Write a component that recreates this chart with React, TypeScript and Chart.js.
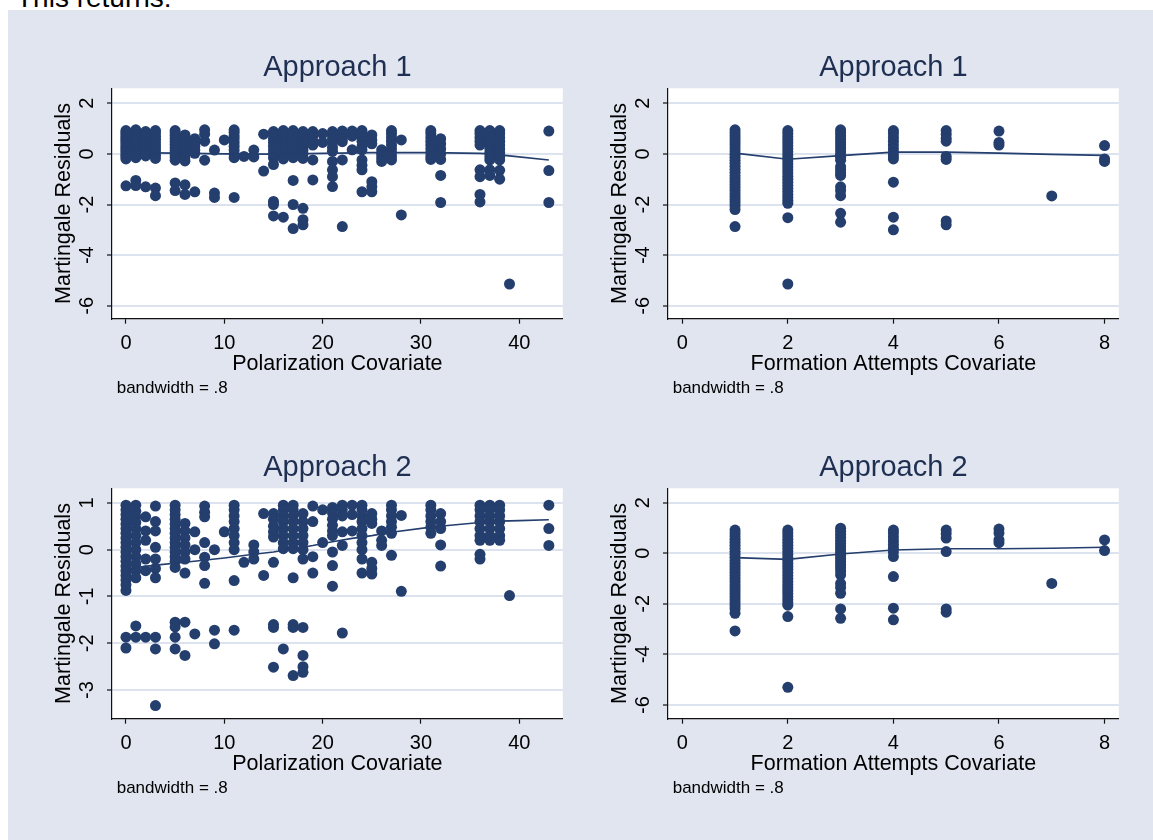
import React, { useEffect, useRef } from "react";
import { Chart, registerables } from "chart.js";
Chart.register(...registerables);

const FONT = '"Liberation Sans", Arial, Helvetica, sans-serif';
const NAVY = "#243e6e";
const TITLE_COLOR = "#1f2f52";
const BG = "rgb(224,229,240)";
const GRID = "#dde3ee";
const AXIS = "#111111";

// ---- Data ----
const polCols = [0, 1, 2, 3, 5, 6, 7, 8, 9, 10, 11, 12, 13, 14, 15, 16, 17, 18, 19, 20, 21, 22, 23, 24, 25, 26, 27, 28, 31, 32, 36, 37, 38, 39, 43];
const formCols = [1, 2, 3, 4, 5, 6, 7, 8];

const polTicks = [0, 10, 20, 30, 40];
const formTicks = [0, 2, 4, 6, 8];
const resTicksWide = [2, 0, -2, -4, -6];
const resTicksNarrow = [1, 0, -1, -2, -3];

// Approach 1 residuals vs polarization (one list per polCols entry)
const a1PolVals = [
  [0.92, 0.85, 0.78, 0.7, 0.62, 0.55, 0.48, 0.4, 0.32, 0.25, 0.18, 0.1, 0.03, -0.05, -0.12, -0.2, -1.26],
  [0.95, 0.85, 0.75, 0.65, 0.55, 0.45, 0.35, 0.25, 0.15, 0.05, -0.05, -0.15, -1.05, -1.25],
  [0.88, 0.78, 0.68, 0.55, 0.42, 0.3, 0.18, 0.05, -0.08, -1.3],
  [0.92, 0.82, 0.7, 0.58, 0.45, 0.32, 0.2, 0.08, -0.05, -0.18, -1.35, -1.65],
  [0.92, 0.82, 0.72, 0.6, 0.48, 0.36, 0.24, 0.12, 0, -0.12, -0.25, -1.15, -1.45],
  [0.75, 0.62, 0.5, 0.38, 0.25, 0.12, 0, -0.12, -0.28, -1.22, -1.6],
  [0.6, 0.45, 0.3, 0.15, 0.02, -1.5],
  [0.95, 0.78, 0.5, -0.25],
  [0.15, -1.55, -1.72],
  [0.55],
  [0.95, 0.85, 0.72, 0.6, 0.45, 0.3, 0.15, 0, -0.15, -1.72],
  [-0.1],
  [0.15, -0.12],
  [0.78, -0.68],
  [0.88, 0.75, 0.6, 0.45, 0.3, 0.15, 0, -0.15, -0.42, -1.88, -2.0, -2.45],
  [0.92, 0.8, 0.65, 0.5, 0.35, 0.2, 0.05, -0.1, -0.2, -2.5],
  [0.92, 0.8, 0.65, 0.5, 0.35, 0.2, 0.05, -0.15, -1.05, -2.0, -2.95],
  [0.88, 0.75, 0.6, 0.45, 0.3, 0.15, 0, -0.18, -2.15, -2.6, -2.8],
  [0.88, 0.7, 0.5, 0.35, -0.24, -1.03],
  [0.8, 0.45],
  [0.88, 0.75, 0.6, 0.42, 0.25, 0.1, -0.3, -0.63, -0.9, -1.29],
  [0.9, 0.78, 0.6, 0.48, -0.24, -2.87],
  [0.9, 0.7, 0.16],
  [0.92, 0.8, 0.65, 0.5, 0.3, 0.16, -0.24, -0.45, -0.63, -1.5],
  [0.75, 0.55, 0.4, -1.1, -1.3, -1.5],
  [0.16, 0, -0.15, -0.3],
  [0.92, 0.8, 0.65, 0.5, 0.35, 0.2, 0.05, -0.1, -0.24],
  [0.55, -2.41],
  [0.92, 0.8, 0.65, 0.5, 0.35, 0.2, 0.05, -0.1, -0.22],
  [0.6, 0.4, 0.2, 0, -0.22, -0.85, -1.92],
  [0.92, 0.8, 0.65, 0.5, 0.35, -0.63, -0.9, -1.6, -1.9],
  [0.92, 0.8, 0.65, 0.5, 0.35, 0.2, 0.05, -0.1, -0.24, -0.63, -0.85],
  [0.92, 0.8, 0.65, 0.5, 0.35, 0.2, 0.05, -0.1, -0.24, -0.65, -1.0],
  [-5.14],
  [0.9, -0.66, -1.92],
];

// Approach 2 residuals vs polarization
const a2PolVals = [
  [0.95, 0.85, 0.75, 0.65, 0.55, 0.45, 0.35, 0.25, 0.15, 0.05, -0.05, -0.15, -0.25, -0.35, -0.45, -0.55, -0.65, -0.75, -0.87, -1.87, -2.1],
  [0.95, 0.82, 0.7, 0.58, 0.45, 0.3, 0.15, 0, -0.15, -0.3, -0.45, -0.6, -1.63, -1.87],
  [0.7, 0.4, 0.2, -0.2, -0.45, -1.87],
  [0.93, 0.6, 0.4, 0.05, -0.2, -0.4, -0.6, -1.87, -2.12, -3.33],
  [0.95, 0.85, 0.75, 0.65, 0.55, 0.45, 0.35, 0.25, 0.15, 0.05, -0.05, -0.15, -0.25, -0.38, -1.55, -1.65, -1.87, -2.12],
  [0.56, 0.4, 0.25, 0.1, -0.05, -0.2, -0.5, -1.55, -2.26],
  [0.38, 0, -1.8],
  [0.93, 0.8, 0.7, 0.15, -0.16, -0.34, -0.72],
  [0, -1.72, -2.01],
  [0.38],
  [0.95, 0.85, 0.72, 0.6, 0.45, 0.3, 0.15, 0, -0.66, -1.72],
  [-0.27],
  [0.1, -0.05, -0.2],
  [0.77, -0.55],
  [0.77, 0.65, 0.5, 0.38, 0.27, -0.27, -1.6, -1.66, -2.51],
  [0.95, 0.85, 0.72, 0.6, 0.45, 0.3, 0.15, 0.02, -2.12],
  [0.95, 0.85, 0.72, 0.6, 0.45, 0.3, 0.15, 0.02, -0.6, -1.6, -1.66, -2.69],
  [0.77, 0.6, 0.45, 0.3, 0.15, 0, -0.2, -1.66, -2.26, -2.5, -2.62],
  [0.93, 0.6, -0.15, -0.5],
  [0.85, 0.15],
  [0.9, 0.78, 0.65, 0.52, 0.4, 0.3, -0.05, -0.34, -0.78],
  [0.95, 0.85, 0.72, 0.38, 0.09, -1.78],
  [0.95, 0.75, 0.4],
  [0.95, 0.85, 0.72, 0.6, 0.45, 0.3, 0.15, 0, -0.2, -0.5],
  [0.77, 0.65, 0.56, -0.27, -0.4, -0.52],
  [0.4, 0.2, 0.09],
  [0.95, 0.85, 0.72, 0.6, 0.48, 0.35, -0.12],
  [0.73, -0.89],
  [0.95, 0.85, 0.72, 0.6, 0.48, 0.35],
  [0.77, 0.6, 0.45, 0.1, -0.35],
  [0.95, 0.85, 0.72, 0.6, 0.45, 0.3, 0.2, -0.1, -0.2],
  [0.95, 0.85, 0.72, 0.6, 0.45, 0.3, 0.2],
  [0.95, 0.85, 0.72, 0.6, 0.45, 0.3, 0.2],
  [-0.98],
  [0.95, 0.45, 0.09],
];

// Approach 1 residuals vs formation attempts
const a1FormVals = [
  [0.95, 0.83, 0.71, 0.59, 0.47, 0.35, 0.23, 0.11, -0.01, -0.13, -0.25, -0.37, -0.49, -0.61, -0.73, -0.85, -0.97, -1.09, -1.21, -1.33, -1.45, -1.57, -1.69, -1.81, -1.93, -2.05, -2.2, -2.87],
  [0.92, 0.8, 0.68, 0.56, 0.44, 0.32, 0.2, 0.08, -0.04, -0.16, -0.28, -0.4, -0.52, -0.64, -0.76, -0.88, -1.0, -1.12, -1.24, -1.36, -1.48, -1.6, -1.72, -1.84, -1.95, -2.52, -5.14],
  [0.95, 0.83, 0.71, 0.59, 0.47, 0.35, 0.23, 0.11, -0.01, -0.13, -0.25, -0.5, -0.62, -0.75, -0.85, -1.3, -1.45, -1.65, -2.35, -2.7],
  [0.92, 0.8, 0.65, 0.5, 0.35, 0.2, 0.05, -0.08, -0.2, -1.12, -2.5, -3.0],
  [0.92, 0.78, 0.62, 0.5, -0.1, -0.22, -2.65, -2.8],
  [0.9, 0.45, 0.35],
  [-1.66],
  [0.33, -0.2, -0.3],
];

// Approach 2 residuals vs formation attempts
const a2FormVals = [
  [0.92, 0.8, 0.68, 0.56, 0.44, 0.32, 0.2, 0.08, -0.04, -0.16, -0.28, -0.4, -0.52, -0.64, -0.76, -0.88, -1.0, -1.12, -1.24, -1.36, -1.48, -1.6, -1.72, -1.84, -1.96, -2.08, -2.2, -2.37, -3.07],
  [0.92, 0.8, 0.68, 0.56, 0.44, 0.32, 0.2, 0.08, -0.04, -0.16, -0.28, -0.4, -0.52, -0.64, -0.76, -0.88, -1.0, -1.12, -1.24, -1.36, -1.48, -1.6, -1.72, -1.84, -1.96, -2.05, -2.5, -5.3],
  [0.99, 0.87, 0.75, 0.63, 0.51, 0.39, 0.27, 0.15, 0.03, -0.09, -0.21, -0.33, -0.45, -0.57, -0.7, -0.85, -1.19, -1.35, -1.58, -2.2, -2.57],
  [0.92, 0.8, 0.65, 0.5, 0.35, 0.2, 0.05, -0.13, -0.92, -2.17, -2.63],
  [0.92, 0.78, 0.6, 0.07, -2.2, -2.33],
  [0.96, 0.8, 0.53, 0.42],
  [-1.19],
  [0.53, 0.11],
];

// Lowess smooths
const a1PolLowX = [0, 5, 10, 15, 20, 25, 31, 36, 37, 38, 39, 43];
const a1PolLowY = [0.05, 0.03, 0.0, -0.01, 0.02, 0.05, 0.05, 0.02, 0.0, -0.04, -0.08, -0.24];
const a2PolLowX = [0, 3, 6, 10, 13, 15, 17, 19, 21, 23, 25, 27, 31, 33, 36, 38, 40, 43];
const a2PolLowY = [-0.41, -0.33, -0.27, -0.18, -0.1, -0.05, 0.02, 0.09, 0.17, 0.24, 0.3, 0.37, 0.48, 0.52, 0.58, 0.61, 0.62, 0.64];
const a1FormLowX = [1, 2, 3, 4, 5, 6, 7, 8];
const a1FormLowY = [0.03, -0.21, -0.07, 0.07, 0.07, 0.03, -0.02, -0.06];
const a2FormLowX = [1, 2, 3, 4, 5, 6, 7, 8];
const a2FormLowY = [-0.17, -0.24, -0.03, 0.13, 0.18, 0.18, 0.2, 0.24];

const CW = 556;
const CH = 400;

type PanelProps = {
  left: number;
  top: number;
  title: string;
  xTitle: string;
  xMin: number;
  xMax: number;
  xTicks: number[];
  yMin: number;
  yMax: number;
  yTicks: number[];
  cols: number[];
  vals: number[][];
  lowX: number[];
  lowY: number[];
};

const areaPlugin = {
  id: "areaBg",
  beforeDraw(chart: any) {
    const { ctx, chartArea } = chart;
    ctx.save();
    ctx.fillStyle = "#ffffff";
    ctx.fillRect(chartArea.left, chartArea.top, chartArea.right - chartArea.left, chartArea.bottom - chartArea.top);
    ctx.restore();
  },
};

const notePlugin = {
  id: "bwNote",
  afterDraw(chart: any) {
    const { ctx, chartArea } = chart;
    ctx.save();
    ctx.font = `17px ${FONT}`;
    ctx.fillStyle = "#000";
    ctx.textAlign = "left";
    ctx.textBaseline = "alphabetic";
    ctx.fillText("bandwidth = .8", chartArea.left + 4.7, chartArea.bottom + 74.6);
    ctx.restore();
  },
};

function Panel(p: PanelProps) {
  const ref = useRef<HTMLCanvasElement>(null);
  useEffect(() => {
    const pts = p.cols.flatMap((c, i) => p.vals[i].map((v) => ({ x: c, y: v })));
    const line = p.lowX.map((x, i) => ({ x, y: p.lowY[i] }));
    const chart = new Chart(ref.current as HTMLCanvasElement, {
      type: "scatter",
      data: {
        datasets: [
          {
            data: pts,
            pointRadius: 5.5,
            pointHoverRadius: 5.5,
            backgroundColor: NAVY,
            borderWidth: 0,
            order: 2,
          } as any,
          {
            data: line,
            showLine: true,
            pointRadius: 0,
            borderColor: NAVY,
            borderWidth: 1.6,
            order: 1,
          } as any,
        ],
      },
      options: {
        animation: false,
        responsive: false,
        events: [],
        layout: { padding: { left: 0, right: 1.2, top: 0, bottom: 0 }, autoPadding: false } as any,
        plugins: {
          legend: { display: false },
          tooltip: { enabled: false },
          title: {
            display: true,
            text: p.title,
            fullSize: false,
            color: TITLE_COLOR,
            font: { family: FONT, size: 29, weight: "normal" as any },
            padding: { top: 40.4, bottom: 3.1 },
          },
        },
        scales: {
          x: {
            type: "linear",
            position: "bottom",
            min: p.xMin,
            max: p.xMax,
            afterBuildTicks: (s: any) => {
              s.ticks = p.xTicks.map((v) => ({ value: v }));
            },
            afterFit: (s: any) => {
              s.height = 91.3;
            },
            grid: { drawOnChartArea: false, drawTicks: true, tickLength: 5, tickColor: AXIS, tickWidth: 1.2 },
            border: { display: true, color: AXIS, width: 1.2 },
            ticks: {
              autoSkip: false,
              minRotation: 0,
              maxRotation: 0,
              padding: 8,
              color: "#000",
              font: { family: FONT, size: 20 },
            },
            title: {
              display: true,
              text: p.xTitle,
              color: "#000",
              font: { family: FONT, size: 21.5 },
              padding: { top: 0, bottom: 33.2 },
            },
          },
          y: {
            type: "linear",
            position: "left",
            min: p.yMin,
            max: p.yMax,
            afterBuildTicks: (s: any) => {
              s.ticks = p.yTicks.map((v) => ({ value: v }));
            },
            afterFit: (s: any) => {
              s.width = 104;
            },
            grid: { color: GRID, lineWidth: 2, drawTicks: true, tickLength: 5, tickColor: AXIS, tickWidth: 1.2 },
            border: { display: true, color: AXIS, width: 1.2 },
            ticks: {
              autoSkip: false,
              minRotation: 90,
              maxRotation: 90,
              crossAlign: "center",
              padding: 10.6,
              color: "#000",
              font: { family: FONT, size: 20 },
            },
            title: {
              display: true,
              text: "Martingale Residuals",
              color: "#000",
              font: { family: FONT, size: 21.5 },
              padding: { top: 43.1, bottom: 0 },
            },
          },
        },
      } as any,
      plugins: [areaPlugin, notePlugin],
    });
    return () => chart.destroy();
  }, []);
  return (
    <canvas
      ref={ref}
      width={CW}
      height={CH}
      style={{ position: "absolute", left: p.left, top: p.top, width: CW, height: CH }}
    />
  );
}

export default function App() {
  return (
    <div
      style={{
        position: "absolute",
        left: 0,
        top: 0,
        width: 1153,
        height: 840,
        overflow: "hidden",
        background: "#fff",
        fontFamily: FONT,
      }}
    >
      <div
        style={{
          position: "absolute",
          left: 16,
          top: -16.4,
          fontSize: 28,
          lineHeight: "28px",
          color: "#000",
          whiteSpace: "nowrap",
        }}
      >
        This returns:
      </div>
      <div style={{ position: "absolute", left: 8, top: 10, width: 1145, height: 830, background: BG }} />
      <Panel
        left={8}
        top={10}
        title="Approach 1"
        xTitle="Polarization Covariate"
        xMin={-1.42}
        xMax={44.42}
        xTicks={polTicks}
        yMin={-6.51}
        yMax={2.59}
        yTicks={resTicksWide}
        cols={polCols}
        vals={a1PolVals}
        lowX={a1PolLowX}
        lowY={a1PolLowY}
      />
      <Panel
        left={564}
        top={10}
        title="Approach 1"
        xTitle="Formation Attempts Covariate"
        xMin={-0.27}
        xMax={8.27}
        xTicks={formTicks}
        yMin={-6.51}
        yMax={2.59}
        yTicks={resTicksWide}
        cols={formCols}
        vals={a1FormVals}
        lowX={a1FormLowX}
        lowY={a1FormLowY}
      />
      <Panel
        left={8}
        top={410}
        title="Approach 2"
        xTitle="Polarization Covariate"
        xMin={-1.42}
        xMax={44.42}
        xTicks={polTicks}
        yMin={-3.61}
        yMax={1.31}
        yTicks={resTicksNarrow}
        cols={polCols}
        vals={a2PolVals}
        lowX={a2PolLowX}
        lowY={a2PolLowY}
      />
      <Panel
        left={564}
        top={410}
        title="Approach 2"
        xTitle="Formation Attempts Covariate"
        xMin={-0.27}
        xMax={8.27}
        xTicks={formTicks}
        yMin={-6.54}
        yMax={2.57}
        yTicks={resTicksWide}
        cols={formCols}
        vals={a2FormVals}
        lowX={a2FormLowX}
        lowY={a2FormLowY}
      />
    </div>
  );
}
